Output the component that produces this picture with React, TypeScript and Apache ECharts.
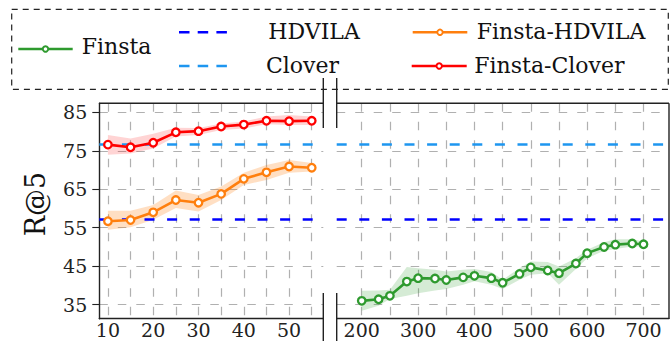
import React, { useEffect, useRef } from 'react';
import * as echarts from 'echarts';

// ---- data ----
const leftX = [10, 15, 20, 25, 30, 35, 40, 45, 50, 55];
const finstaCloverMean = [76.6, 75.9, 77.1, 79.8, 80.1, 81.3, 81.8, 82.8, 82.7, 82.8];
const finstaCloverUpper = [79.1, 78.2, 79.4, 81.0, 80.9, 82.1, 82.6, 83.9, 84.3, 83.9];
const finstaCloverLower = [74.0, 74.3, 75.6, 78.7, 79.1, 80.4, 80.8, 81.9, 81.7, 81.7];
const finstaHdvilaMean = [56.7, 57.0, 59.0, 62.2, 61.5, 63.8, 67.7, 69.4, 70.9, 70.6];
const finstaHdvilaUpper = [59.4, 59.4, 60.9, 64.7, 63.5, 65.7, 69.3, 71.3, 72.6, 71.8];
const finstaHdvilaLower = [54.5, 55.1, 57.1, 60.1, 59.2, 62.2, 66.1, 67.4, 69.3, 69.6];

const rightX = [200, 230, 250, 280, 300, 330, 350, 380, 400, 430, 450, 480, 500, 530, 550, 580, 600, 630, 650, 680, 700];
const finstaMean = [36.0, 36.4, 37.3, 41.0, 41.9, 41.8, 41.4, 42.1, 42.5, 41.9, 40.7, 43.0, 44.7, 43.9, 43.2, 45.7, 48.4, 50.0, 50.6, 50.9, 50.7];
const finstaUpper = [38.6, 38.7, 38.9, 44.8, 44.5, 44.1, 43.6, 44.1, 44.3, 43.5, 41.5, 44.5, 46.2, 46.1, 44.9, 47.1, 49.3, 51.2, 52.0, 52.0, 51.4];
const finstaLower = [33.4, 34.7, 36.5, 37.3, 38.0, 38.7, 39.1, 40.2, 41.1, 40.2, 39.1, 41.5, 42.8, 43.2, 40.2, 44.3, 47.1, 49.0, 49.5, 50.1, 50.1];

const hdvilaValue = 57.2;
const cloverValue = 76.7;

const leftXLabels = [10, 20, 30, 40, 50];
const leftXGrid = [10, 15, 20, 25, 30, 35, 40, 45, 50, 55];
const rightXLabels = [200, 300, 400, 500, 600, 700];
const rightXGrid = [200, 250, 300, 350, 400, 450, 500, 550, 600, 650, 700];
const yTickValues = [35, 45, 55, 65, 75, 85];

// ---- styles ----
const GREEN = '#2e9a2e';
const ORANGE = '#ff7f0e';
const RED = '#ff0000';
const BLUE = '#0000ff';
const LIGHTBLUE = '#1e96f0';
const FONT = '"DejaVu Serif", serif';
const AXIS = '#222';
const GRIDC = '#b0b0b0';

const Y_MIN = 31.36;
const Y_MAX = 87.34;

function band(name: string, xs: number[], lo: number[], hi: number[], fill: string, idx: number) {
  return {
    type: 'custom',
    name,
    xAxisIndex: idx,
    yAxisIndex: idx,
    silent: true,
    z: 1,
    data: xs.map((x, i) => [x, lo[i], hi[i]]),
    encode: { x: 0, y: [1, 2] },
    renderItem: (params: any, api: any) => {
      if (params.dataIndex !== 0) return null;
      const pts: number[][] = [];
      for (let i = 0; i < xs.length; i++) pts.push(api.coord([xs[i], hi[i]]));
      for (let i = xs.length - 1; i >= 0; i--) pts.push(api.coord([xs[i], lo[i]]));
      return { type: 'polygon', shape: { points: pts }, style: { fill, stroke: 'none' } };
    },
  };
}

function dataLine(name: string, xs: number[], ys: number[], color: string, idx: number) {
  return {
    type: 'line',
    name,
    xAxisIndex: idx,
    yAxisIndex: idx,
    z: 5,
    data: xs.map((x, i) => [x, ys[i]]),
    symbol: 'circle',
    symbolSize: 7.5,
    showSymbol: true,
    lineStyle: { color, width: 2.6 },
    itemStyle: { color: '#ffffff', borderColor: color, borderWidth: 2.3 },
  };
}

function refLine(name: string, value: number, color: string, idx: number) {
  return {
    type: 'line',
    name,
    xAxisIndex: idx,
    yAxisIndex: idx,
    z: 3,
    data: [],
    markLine: {
      silent: true,
      symbol: ['none', 'none'],
      label: { show: false },
      lineStyle: { color, width: 2.6, type: [10, 12.6] },
      data: [{ yAxis: value }],
    },
  };
}

function xAxisDef(idx: number, min: number, max: number, labels: number[], grid: number[]) {
  return {
    type: 'value',
    gridIndex: idx,
    min,
    max,
    axisLine: { show: true, onZero: false, lineStyle: { color: AXIS, width: 1.4 } },
    axisTick: { show: false, customValues: grid },
    axisLabel: {
      customValues: labels,
      margin: 2,
      fontFamily: FONT,
      fontSize: 19,
      color: AXIS,
    },
    splitLine: { show: true, lineStyle: { color: GRIDC, width: 1.2, type: [8.5, 10] } },
  };
}

function yAxisDef(idx: number, showLabels: boolean) {
  return {
    type: 'value',
    gridIndex: idx,
    min: Y_MIN,
    max: Y_MAX,
    axisLine: { show: showLabels, onZero: false, lineStyle: { color: AXIS, width: 1.4 } },
    axisTick: {
      show: showLabels,
      inside: false,
      length: 7,
      customValues: yTickValues,
      lineStyle: { color: AXIS, width: 1.1 },
    },
    axisLabel: {
      show: showLabels,
      customValues: yTickValues,
      margin: 12,
      fontFamily: FONT,
      fontSize: 19,
      color: AXIS,
    },
    splitLine: { show: true, lineStyle: { color: GRIDC, width: 1.2, type: [8.5, 10] } },
  };
}

const GL = { left: 99.3, top: 103.3, width: 224, height: 215.4 };
const GR = { left: 336.7, top: 103.3, width: 332.3, height: 215.4 };

function legendLine(x1: number, x2: number, y: number, color: string, dashed: boolean, marker: boolean, label: string, tx: number, ty: number) {
  const els: any[] = [
    {
      type: 'line',
      silent: true,
      z: 20,
      shape: { x1, y1: y, x2, y2: y },
      style: { stroke: color, lineWidth: 2.6, lineDash: dashed ? [10.5, 8.2] : null },
    },
  ];
  if (marker) {
    els.push({
      type: 'circle',
      silent: true,
      z: 21,
      shape: { cx: (x1 + x2) / 2, cy: y, r: 2.7 },
      style: { fill: '#fff', stroke: color, lineWidth: 1.9 },
    });
  }
  els.push({
    type: 'text',
    silent: true,
    z: 21,
    x: tx,
    y: ty,
    style: { text: label, font: `22px ${FONT}`, fill: '#111', align: 'left', verticalAlign: 'middle' },
  });
  return els;
}

function seg(x1: number, y1: number, x2: number, y2: number, w = 1.4) {
  return { type: 'line', silent: true, z: 15, shape: { x1, y1, x2, y2 }, style: { stroke: AXIS, lineWidth: w } };
}

const breakL = GL.left + GL.width;
const breakR = GR.left;
const topY = GL.top;
const botY = GL.top + GL.height;
const rightEdge = GR.left + GR.width;

const option: any = {
  animation: false,
  backgroundColor: '#ffffff',
  grid: [
    { ...GL, show: false, containLabel: false, outerBoundsMode: 'none' },
    { ...GR, show: false, containLabel: false, outerBoundsMode: 'none' },
  ],
  xAxis: [
    xAxisDef(0, 8.1, 57.55, leftXLabels, leftXGrid),
    xAxisDef(1, 155.6, 745.2, rightXLabels, rightXGrid),
  ],
  yAxis: [yAxisDef(0, true), yAxisDef(1, false)],
  series: [
    band('Finsta-Clover band', leftX, finstaCloverLower, finstaCloverUpper, 'rgba(255,0,0,0.17)', 0),
    band('Finsta-HDVILA band', leftX, finstaHdvilaLower, finstaHdvilaUpper, 'rgba(255,127,14,0.25)', 0),
    band('Finsta band', rightX, finstaLower, finstaUpper, 'rgba(46,154,46,0.2)', 1),
    refLine('HDVILA', hdvilaValue, BLUE, 0),
    refLine('HDVILA', hdvilaValue, BLUE, 1),
    refLine('Clover', cloverValue, LIGHTBLUE, 0),
    refLine('Clover', cloverValue, LIGHTBLUE, 1),
    dataLine('Finsta-Clover', leftX, finstaCloverMean, RED, 0),
    dataLine('Finsta-HDVILA', leftX, finstaHdvilaMean, ORANGE, 0),
    dataLine('Finsta', rightX, finstaMean, GREEN, 1),
  ],
  graphic: [
    // legend frame
    {
      type: 'rect',
      silent: true,
      z: 19,
      shape: { x: 11.7, y: 9.3, width: 656.6, height: 80 },
      style: { fill: 'none', stroke: '#222', lineWidth: 1.2, lineDash: [6, 5] },
    },
    ...legendLine(18.3, 72.7, 49, GREEN, false, true, 'Finsta', 81.7, 46.5),
    ...legendLine(179, 227, 32.3, BLUE, true, false, 'HDVILA', 268.3, 31.5),
    ...legendLine(179, 227, 66, LIGHTBLUE, true, false, 'Clover', 266, 65),
    ...legendLine(412.7, 467.3, 32.3, ORANGE, false, true, 'Finsta-HDVILA', 476.7, 31.5),
    ...legendLine(411.7, 466.7, 66, RED, false, true, 'Finsta-Clover', 474.3, 65),
    // frame borders
    seg(GL.left, topY, breakL, topY),
    seg(breakR, topY, rightEdge, topY),
    seg(rightEdge, topY, rightEdge, botY),
    // break marks
    seg(breakL, 78, breakL, 128),
    seg(breakR, 78, breakR, 128),
    seg(breakL, 293, breakL, 341),
    seg(breakR, 293, breakR, 341),
    // y axis title
    {
      type: 'text',
      silent: true,
      z: 20,
      x: 35,
      y: 204,
      rotation: Math.PI / 2,
      style: { text: 'R@5', font: `27px ${FONT}`, fill: '#111', align: 'center', verticalAlign: 'middle' },
    },
  ],
};

export default function App() {
  const ref = useRef<HTMLDivElement>(null);
  useEffect(() => {
    const chart = echarts.init(ref.current as HTMLDivElement, null, { renderer: 'svg' });
    chart.setOption(option);
    return () => chart.dispose();
  }, []);
  return (
    <div
      ref={ref}
      style={{ position: 'absolute', left: 0, top: 0, width: 671, height: 341, background: '#fff' }}
    />
  );
}
